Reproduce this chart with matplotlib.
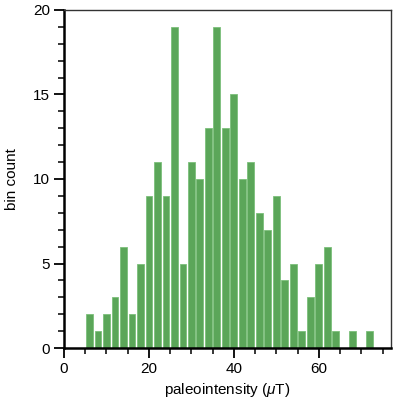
import matplotlib
matplotlib.use("Agg")
import matplotlib.pyplot as plt
from matplotlib.ticker import MultipleLocator

plt.rcParams['font.family'] = ['Liberation Sans', 'DejaVu Sans']
plt.rcParams['mathtext.fontset'] = 'custom'
plt.rcParams['mathtext.it'] = 'Liberation Sans:italic'
plt.rcParams['mathtext.rm'] = 'Liberation Sans'

bin_centers = [6, 8, 10, 12, 14, 16, 18, 20, 22, 24, 26, 28, 30, 32, 34, 36, 38,
               40, 42, 44, 46, 48, 50, 52, 54, 56, 58, 60, 62, 64, 66, 68, 70, 72]
counts = [2, 1, 2, 3, 6, 2, 5, 9, 11, 9, 19, 5, 11, 10, 13, 19, 13,
          15, 10, 11, 8, 7, 9, 4, 5, 1, 3, 5, 6, 1, 0, 1, 0, 1]

fig = plt.figure(figsize=(3.97, 4.04), dpi=100)
ax = fig.add_axes([64/397, 1 - 348/404, (391 - 64)/397, (348 - 10)/404])

ax.bar(bin_centers, counts, width=1.6, color='#5ba659', edgecolor='#7cc07a',
       linewidth=0.6, zorder=2)

ax.set_xlim(0, 77)
ax.set_ylim(0, 20)

ax.xaxis.set_major_locator(MultipleLocator(20))
ax.xaxis.set_minor_locator(MultipleLocator(5))
ax.yaxis.set_major_locator(MultipleLocator(5))
ax.yaxis.set_minor_locator(MultipleLocator(1))

ax.tick_params(axis='both', which='major', direction='out', length=7, width=1.3,
               labelsize=11, color='black', pad=3)
ax.tick_params(axis='both', which='minor', direction='out', length=4, width=1.1,
               color='black')

for s in ['left', 'bottom']:
    ax.spines[s].set_linewidth(1.8)
    ax.spines[s].set_color('black')
for s in ['top', 'right']:
    ax.spines[s].set_linewidth(1.0)
    ax.spines[s].set_color('#333333')

ax.set_xlabel('paleointensity ($\\mu$T)', fontsize=11, labelpad=4)
ax.set_ylabel('bin count', fontsize=11, labelpad=10)

fig.savefig('out.png', dpi=100)
